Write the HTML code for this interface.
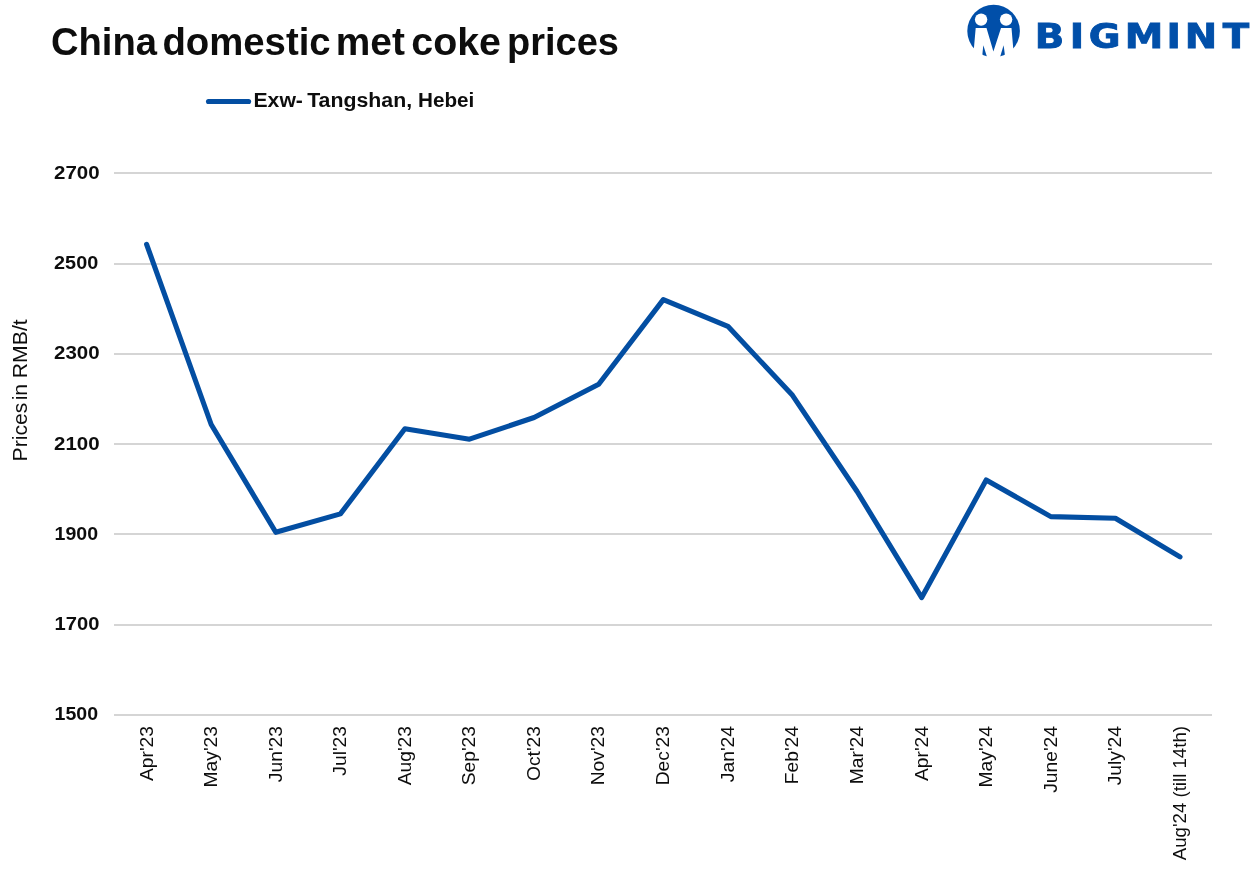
<!DOCTYPE html>
<html lang="en">
<head>
<meta charset="utf-8">
<title>China domestic met coke prices</title>
<style>
html,body{margin:0;padding:0;background:#fff;}
body{width:1259px;height:883px;overflow:hidden;}
svg{display:block;will-change:transform;}
text{font-family:"Liberation Sans",Arial,sans-serif;fill:#0d0d0d;}
.b{font-weight:700;}
.ttl{font-weight:700;font-size:38.3px;}
.yl{font-weight:700;font-size:18.4px;}
.xl{font-size:19.25px;text-anchor:end;}
.lg{font-weight:700;font-size:19.6px;}
.logo text{font-family:"DejaVu Sans","Liberation Sans",sans-serif;font-weight:700;font-size:34.6px;fill:#014FA9;stroke:#014FA9;stroke-width:0.9px;stroke-linejoin:miter;}
</style>
</head>
<body>
<svg width="1259" height="883" viewBox="0 0 1259 883">
<rect width="1259" height="883" fill="#ffffff"/>

<text class="ttl" y="54.8"><tspan x="50.9" textLength="106.1" lengthAdjust="spacingAndGlyphs">China</tspan> <tspan x="162.4" textLength="168.3" lengthAdjust="spacingAndGlyphs">domestic</tspan> <tspan x="335.8" textLength="69.1" lengthAdjust="spacingAndGlyphs">met</tspan> <tspan x="411.3" textLength="89.7" lengthAdjust="spacingAndGlyphs">coke</tspan> <tspan x="507.1" textLength="111.8" lengthAdjust="spacingAndGlyphs">prices</tspan></text>
<line x1="208.5" y1="101.5" x2="248.6" y2="101.5" stroke="#034EA2" stroke-width="5.1" stroke-linecap="round"/>
<text class="lg" y="106.8"><tspan x="253.5" textLength="49.4" lengthAdjust="spacingAndGlyphs">Exw-</tspan> <tspan x="307.2" textLength="104.9" lengthAdjust="spacingAndGlyphs">Tangshan,</tspan> <tspan x="418.0" textLength="56.3" lengthAdjust="spacingAndGlyphs">Hebei</tspan></text>
<g fill="#D5D5D5" shape-rendering="crispEdges">
<rect x="114" y="172" width="1098" height="2"/>
<rect x="114" y="263" width="1098" height="2"/>
<rect x="114" y="353" width="1098" height="2"/>
<rect x="114" y="443" width="1098" height="2"/>
<rect x="114" y="533" width="1098" height="2"/>
<rect x="114" y="624" width="1098" height="2"/>
<rect x="114" y="714" width="1098" height="2"/>
</g>
<g class="yl">
<text x="54.0" y="178.9" textLength="45.6" lengthAdjust="spacingAndGlyphs">2700</text>
<text x="54.1" y="269.2" textLength="44.1" lengthAdjust="spacingAndGlyphs">2500</text>
<text x="54.0" y="359.2" textLength="45.6" lengthAdjust="spacingAndGlyphs">2300</text>
<text x="54.0" y="450.2" textLength="45.6" lengthAdjust="spacingAndGlyphs">2100</text>
<text x="54.6" y="540.2" textLength="43.5" lengthAdjust="spacingAndGlyphs">1900</text>
<text x="54.6" y="630.2" textLength="44.8" lengthAdjust="spacingAndGlyphs">1700</text>
<text x="54.6" y="720.2" textLength="43.5" lengthAdjust="spacingAndGlyphs">1500</text>
</g>
<text transform="translate(27.4,461.5) rotate(-90) scale(1.06,1)" font-size="20"><tspan x="0">Prices</tspan> <tspan x="57.7">in</tspan> <tspan x="78.6">RMB/t</tspan></text>
<g class="xl">
<text transform="translate(152.6,726.0) rotate(-90)">Apr'23</text>
<text transform="translate(217.2,726.0) rotate(-90)">May'23</text>
<text transform="translate(281.8,726.0) rotate(-90)">Jun'23</text>
<text transform="translate(346.4,726.0) rotate(-90)">Jul'23</text>
<text transform="translate(410.9,726.0) rotate(-90)">Aug'23</text>
<text transform="translate(474.8,726.0) rotate(-90)">Sep'23</text>
<text transform="translate(540.1,726.0) rotate(-90)">Oct'23</text>
<text transform="translate(604.0,726.0) rotate(-90)">Nov'23</text>
<text transform="translate(669.3,726.0) rotate(-90)">Dec'23</text>
<text transform="translate(733.9,726.0) rotate(-90)">Jan'24</text>
<text transform="translate(797.8,726.0) rotate(-90)">Feb'24</text>
<text transform="translate(863.1,726.0) rotate(-90)">Mar'24</text>
<text transform="translate(927.7,726.0) rotate(-90)">Apr'24</text>
<text transform="translate(992.2,726.0) rotate(-90)">May'24</text>
<text transform="translate(1056.8,726.0) rotate(-90)">June'24</text>
<text transform="translate(1121.4,726.0) rotate(-90)">July'24</text>
<text transform="translate(1186.1,726.0) rotate(-90)" style="font-size:18.67px">Aug'24 (till 14th)</text>
</g>
<polyline points="146.6,244.3 211.2,424.5 275.8,532.3 340.4,513.9 404.9,428.8 469.5,439.2 534.1,417.5 598.7,384.2 663.3,299.6 727.9,326.3 792.5,395.3 857.1,491.5 921.7,597.6 986.2,480.0 1050.8,516.6 1115.4,518.3 1180.0,556.9" fill="none" stroke="#034EA2" stroke-width="5.1" stroke-linecap="round" stroke-linejoin="round"/>
<defs><clipPath id="lc"><circle cx="993.6" cy="31.0" r="26.3"/></clipPath></defs>
<circle cx="993.6" cy="31.0" r="26.3" fill="#014FA9"/>
<circle cx="981.1" cy="19.6" r="6.2" fill="#fff"/>
<circle cx="1006.1" cy="19.6" r="6.2" fill="#fff"/>
<polygon points="975.7,27.9 986.5,27.9 993.4,51.4 1001.0,27.9 1011.5,27.9 1014.4,62 972.7,62" fill="#fff"/>
<g clip-path="url(#lc)">
<polygon points="983.3,45.3 981.8,60 988.0,60" fill="#014FA9"/>
<polygon points="1003.6,45.3 1005.6,60 999.2,60" fill="#014FA9"/>
</g>
<g class="logo">
<text transform="scale(1.120,1)" y="48.5" x="923.84 955.09 972.05 1004.29 1041.43 1057.86 1091.79">BIGMINT</text>
</g>
</svg>
</body>
</html>
